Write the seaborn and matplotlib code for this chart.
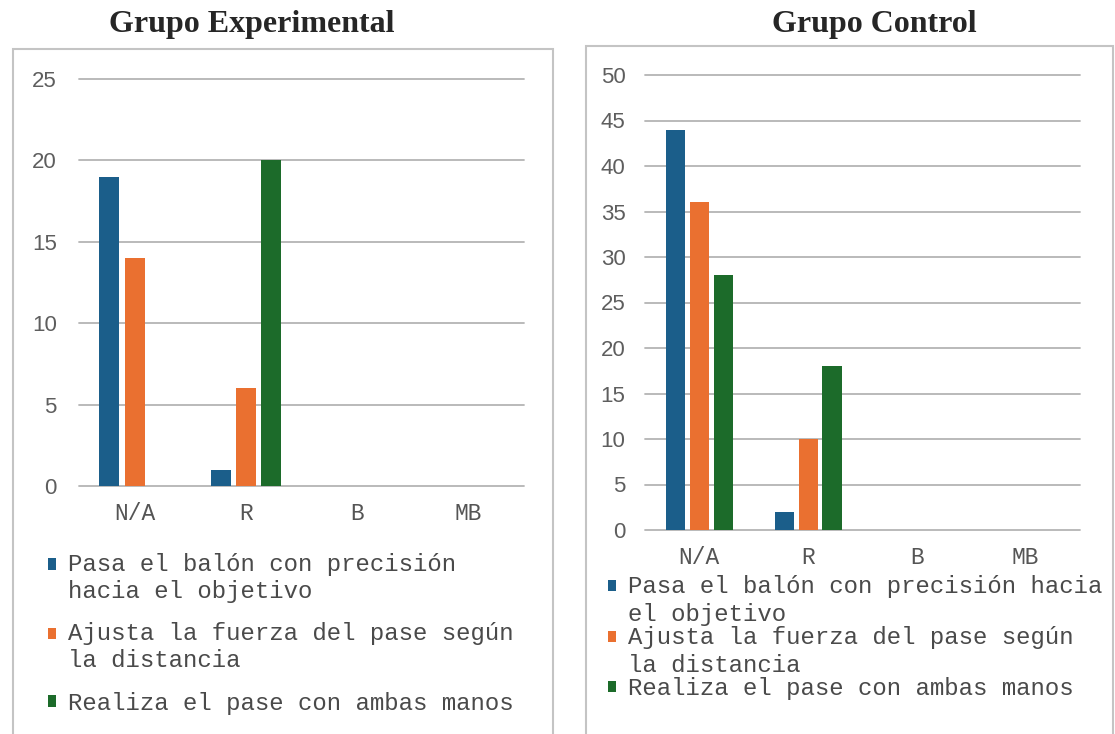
import pandas as pd
import matplotlib
matplotlib.use('Agg')
import matplotlib.pyplot as plt
from matplotlib.patches import Rectangle
import seaborn as sns

# Datos
niveles = ['N/A', 'R', 'B', 'MB']
indicadores = ['Pasa el balón con precisión hacia el objetivo',
               'Ajusta la fuerza del pase según la distancia',
               'Realiza el pase con ambas manos']
exp_pasa = [19, 1, 0, 0]
exp_ajusta = [14, 6, 0, 0]
exp_realiza = [0, 20, 0, 0]
ctrl_pasa = [44, 2, 0, 0]
ctrl_ajusta = [36, 10, 0, 0]
ctrl_realiza = [28, 18, 0, 0]

# etiquetas de la leyenda tal como salen cortadas en cada gráfico
ley_exp = ['Pasa el balón con precisión\nhacia el objetivo',
           'Ajusta la fuerza del pase según\nla distancia',
           'Realiza el pase con ambas manos']
ley_ctrl = ['Pasa el balón con precisión hacia\nel objetivo',
            'Ajusta la fuerza del pase según\nla distancia',
            'Realiza el pase con ambas manos']

colores = ['#1b5e8a', '#ea7030', '#1c6b2a']

sns.set_theme(style='whitegrid')
plt.rcParams['font.family'] = ['Liberation Mono', 'DejaVu Sans']

W, H = 1115, 734
fig = plt.figure(figsize=(W / 100, H / 100), dpi=100)


def tabla(pasa, ajusta, realiza):
    filas = []
    for ind, vals in zip(indicadores, [pasa, ajusta, realiza]):
        for niv, v in zip(niveles, vals):
            filas.append({'Nivel': niv, 'Indicador': ind, 'Valor': v})
    return pd.DataFrame(filas)


def panel(rect, df, ymax, ancho, etiquetas, ley_pos, esp, ypad, interlineado):
    ax = fig.add_axes(rect)
    sns.barplot(data=df, x='Nivel', y='Valor', hue='Indicador', order=niveles,
                hue_order=indicadores, palette=colores, width=ancho, gap=0.2,
                saturation=1, linewidth=0, ax=ax)
    ax.set_ylim(0, ymax)
    ax.set_yticks(range(0, ymax + 1, 5))
    ax.set_xlim(-0.5, 3.5)
    ax.set_xlabel('')
    ax.set_ylabel('')
    for s in ax.spines.values():
        s.set_visible(False)
    ax.grid(axis='y', color='#b4b4b4', linewidth=1.3)
    ax.grid(axis='x', visible=False)
    for ln in ax.get_ygridlines():
        ln.set_clip_on(False)
    ax.set_axisbelow(True)
    ax.tick_params(axis='y', length=0, pad=ypad, labelsize=16, labelcolor='#5e5e5e')
    ax.tick_params(axis='x', length=0, pad=11.5, labelsize=16.5, labelcolor='#555555')
    for t in ax.get_yticklabels():
        t.set_fontfamily('Liberation Sans')

    handles = ax.get_legend().legend_handles
    ax.get_legend().remove()
    leg = fig.legend(handles, etiquetas, loc='upper left', bbox_to_anchor=ley_pos,
                     frameon=False, borderpad=0, borderaxespad=0,
                     handlelength=0.35, handleheight=0.35, handletextpad=0.5,
                     labelspacing=esp, prop={'family': 'Liberation Mono', 'size': 17.3})
    for h, txt, lab in zip(leg.legend_handles, leg.get_texts(), etiquetas):
        txt.set_color('#4a4a4a')
        txt.set_linespacing(interlineado)
        n = lab.count('\n')
        if n:
            # el cuadrito va a la altura de la primera línea
            h.set_y(h.get_y() + n * 10.3 * interlineado / 1.2)
    return ax


df_exp = tabla(exp_pasa, exp_ajusta, exp_realiza)
df_ctrl = tabla(ctrl_pasa, ctrl_ajusta, ctrl_realiza)

panel([79 / W, 1 - 486 / H, 445 / W, 407 / H], df_exp, 25, 0.68, ley_exp,
      (47.5 / W, 1 - 553 / H), 0.82, 16, 1.2)
panel([645 / W, 1 - 530 / H, 435 / W, 455 / H], df_ctrl, 50, 0.66, ley_ctrl,
      (607.5 / W, 1 - 575 / H), 0.0, 14, 1.28)

# marcos de cada gráfico
for x0, x1, top in [(12.5, 553, 48.5), (586, 1113, 45.5)]:
    fig.add_artist(Rectangle((x0 / W, -0.05), (x1 - x0) / W, top / H * -1 + 1.05,
                             transform=fig.transFigure, fill=False,
                             edgecolor='#c4c4c4', linewidth=1.5))

fig.text(252 / W, 1 - 32 / H, 'Grupo Experimental', ha='center', va='baseline',
         fontfamily='Liberation Serif', fontweight='bold', fontsize=23)
fig.text(874 / W, 1 - 32 / H, 'Grupo Control', ha='center', va='baseline',
         fontfamily='Liberation Serif', fontweight='bold', fontsize=23)

fig.savefig('out.png', dpi=100)
